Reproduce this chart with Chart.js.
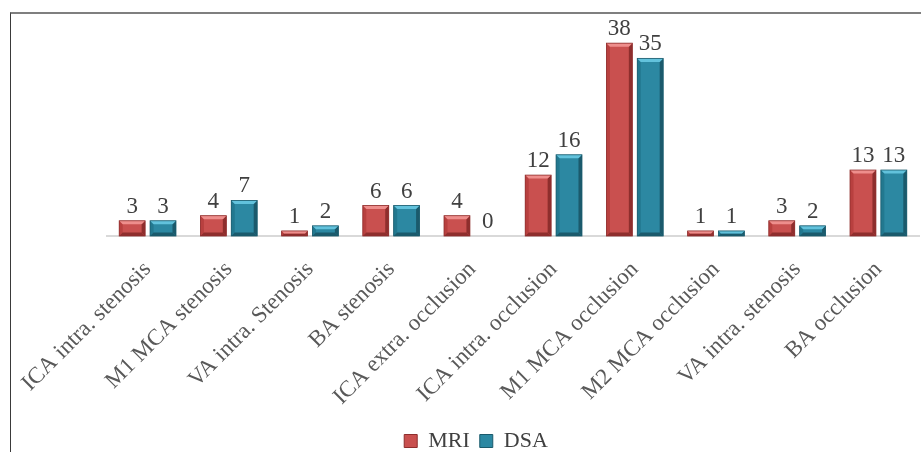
<!DOCTYPE html>
<html>
<head>
<meta charset="utf-8">
<script src="https://cdn.jsdelivr.net/npm/chart.js@4/dist/chart.umd.min.js"></script>
<style>
  html, body { margin: 0; padding: 0; background: #fff; }
  #wrap { position: relative; width: 921px; height: 452px; overflow: hidden; }
  #frame { position: absolute; left: 10px; top: 12px; width: 930px; height: 460px;
           border-top: 2px solid #7f7f7f; border-left: 1.5px solid #3a3a3a; box-sizing: border-box; }
  canvas { position: absolute; left: 0; top: 0; }
</style>
</head>
<body>
<div id="wrap">
  <canvas id="c" width="921" height="452"></canvas>
  <div id="frame"></div>
</div>
<script>
const categories = ["ICA intra. stenosis","M1 MCA stenosis","VA intra. Stenosis","BA stenosis","ICA extra. occlusion","ICA intra. occlusion","M1 MCA occlusion","M2 MCA occlusion","VA intra. stenosis","BA occlusion"];
const mriValues = [3,4,1,6,4,12,38,1,3,13];
const dsaValues = [3,7,2,6,0,16,35,1,2,13];
const seriesNames = ["MRI","DSA"];

const SERIF = "'Liberation Serif', 'Times New Roman', serif";

const palette = [
  { main: '#C9504F', light: '#EE8E8C', side: '#B8403F', dark: '#8E2E2D' },
  { main: '#2C88A2', light: '#62C2DC', side: '#22788F', dark: '#1B5A6C' }
];

const bevelPlugin = {
  id: 'bevel',
  afterDatasetDraw(chart, args) {
    const ctx = chart.ctx;
    const p = palette[args.index];
    const meta = args.meta;
    ctx.save();
    meta.data.forEach(el => {
      const w = el.width, l = el.x - w/2, r = el.x + w/2, t = el.y, b = el.base;
      const h = b - t;
      if (h <= 0.5) return;
      const bv = Math.min(3.5, h/2);
      ctx.fillStyle = p.side;
      ctx.beginPath(); ctx.moveTo(l,t); ctx.lineTo(l+bv,t+bv); ctx.lineTo(l+bv,b-bv); ctx.lineTo(l,b); ctx.closePath(); ctx.fill();
      ctx.fillStyle = p.dark;
      ctx.beginPath(); ctx.moveTo(r,t); ctx.lineTo(r-bv,t+bv); ctx.lineTo(r-bv,b-bv); ctx.lineTo(r,b); ctx.closePath(); ctx.fill();
      ctx.beginPath(); ctx.moveTo(l,b); ctx.lineTo(l+bv,b-bv); ctx.lineTo(r-bv,b-bv); ctx.lineTo(r,b); ctx.closePath(); ctx.fill();
      ctx.fillStyle = p.light;
      ctx.beginPath(); ctx.moveTo(l,t); ctx.lineTo(r,t); ctx.lineTo(r-bv,t+bv); ctx.lineTo(l+bv,t+bv); ctx.closePath(); ctx.fill();
      ctx.strokeStyle = p.dark; ctx.lineWidth = 0.8;
      ctx.strokeRect(l, t, w, h);
    });
    ctx.restore();
  }
};

const valueLabelPlugin = {
  id: 'valueLabels',
  afterDatasetsDraw(chart) {
    const ctx = chart.ctx;
    ctx.save();
    ctx.font = '23px ' + SERIF;
    ctx.fillStyle = '#404040';
    ctx.textAlign = 'center';
    ctx.textBaseline = 'alphabetic';
    chart.data.datasets.forEach((ds, i) => {
      const meta = chart.getDatasetMeta(i);
      meta.data.forEach((el, j) => {
        ctx.fillText(String(ds.data[j]), el.x, el.y - 8);
      });
    });
    ctx.restore();
  }
};

new Chart(document.getElementById('c'), {
  type: 'bar',
  data: {
    labels: categories,
    datasets: [
      { label: seriesNames[0], data: mriValues, backgroundColor: palette[0].main, borderWidth: 0,
        categoryPercentage: 0.76, barPercentage: 0.84 },
      { label: seriesNames[1], data: dsaValues, backgroundColor: palette[1].main, borderWidth: 0,
        categoryPercentage: 0.76, barPercentage: 0.84 }
    ]
  },
  options: {
    responsive: false,
    animation: false,
    layout: { padding: { left: 33, right: 2, top: 33, bottom: -10 } },
    plugins: {
      legend: {
        position: 'bottom',
        labels: {
          font: { family: SERIF, size: 22 },
          color: '#404040',
          boxWidth: 13, boxHeight: 13,
          padding: 10,
          generateLabels(chart) {
            return chart.data.datasets.map((ds, i) => ({
              text: ds.label, fillStyle: palette[i].main, strokeStyle: palette[i].dark,
              lineWidth: 1, hidden: false, datasetIndex: i, fontColor: '#404040'
            }));
          }
        }
      },
      tooltip: { enabled: false }
    },
    scales: {
      y: {
        display: true, min: 0, max: 40,
        ticks: { display: false },
        grid: { display: false },
        border: { display: false },
        afterFit(scale) { scale.width = 74; }
      },
      x: {
        grid: { display: false },
        border: { display: true, color: '#d9d9d9', width: 2 },
        ticks: {
          minRotation: 45, maxRotation: 45, padding: 12,
          font: { family: SERIF, size: 23 }, color: '#595959'
        },
        afterFit(scale) { scale.height = 184; }
      }
    }
  },
  plugins: [bevelPlugin, valueLabelPlugin]
});
</script>
</body>
</html>
